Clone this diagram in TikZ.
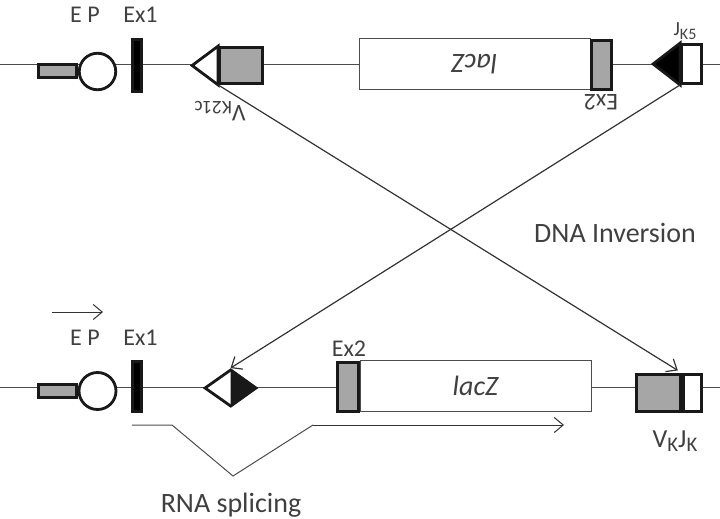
\documentclass[tikz,border=0pt]{standalone}
\usepackage{fontspec}
\setmainfont{Carlito}
\usetikzlibrary{arrows.meta,shapes.geometric}

\newcommand{\genesub}[1]{\raisebox{-0.35ex}{\scalebox{0.8}{#1}}}

\tikzset{
    seg/.style={draw=black!90, line width=2.8pt, inner sep=0pt},
    exon/.style={seg, rectangle, fill=gray!70},
    gene/.style={draw=black!70, line width=1pt, fill=white, inner sep=0pt,
                 minimum width=231pt, minimum height=51pt,
                 font=\fontsize{28}{32}\selectfont\itshape, text=black!75},
    dna/.style={draw=black!70, line width=1pt},
    lbl/.style={inner sep=0pt, text=black!75, font=\fontsize{24}{28}\selectfont},
    biglbl/.style={lbl, font=\fontsize{28}{32}\selectfont},
    move/.style={draw=black!80, line width=1.2pt,
                 -{Straight Barb[length=9pt,width=15pt]}}
}

\begin{document}
\begin{tikzpicture}[x=1pt, y=-1pt]
    \useasboundingbox (0,0) rectangle (720,519);

    % DNA strands
    \coordinate (tl) at (0,65);
    \coordinate (tr) at (720,65);
    \coordinate (bl) at (0,387);
    \coordinate (br) at (720,387);
    \draw[dna] (tl) -- (tr);
    \draw[dna] (bl) -- (br);

    % Upper allele: promoter and exon 1
    \node[exon, minimum width=38pt, minimum height=13pt] (ep1) at (57.5,71) {};
    \node[seg, circle, fill=white, minimum size=36.5pt] (pr1) at (97.5,71.5) {};
    \node[seg, fill=black, minimum width=9.5pt, minimum height=52.5pt] (ex11) at (137,65.5) {};

    % Upper allele: V segment (inverted)
    \node[exon, minimum width=43pt, minimum height=36pt] (vk21) at (241,65.5) {};
    \filldraw[seg, fill=white] (vk21.north west) -- (vk21.south west)
        -- ([xshift=-26pt]vk21.west) -- cycle;

    % Upper allele: lacZ and exon 2 (inverted)
    \node[gene, rotate=180] (lacz1) at (474.5,64) {lacZ};
    \node[exon, minimum width=20pt, minimum height=49pt] (ex21) at (601.5,65) {};

    % Upper allele: J segment
    \node[seg, fill=white, minimum width=20pt, minimum height=39pt] (jk5) at (691.5,64) {};
    \filldraw[seg, fill=black] (jk5.north west) -- (jk5.south west)
        -- ([xshift=-27pt]jk5.west) -- cycle;

    % Lower allele: promoter and exon 1
    \node[exon, minimum width=38pt, minimum height=13pt] (ep2) at (57.5,391) {};
    \node[seg, circle, fill=white, minimum size=37pt] (pr2) at (97.5,391) {};
    \node[seg, fill=black, minimum width=9.5pt, minimum height=50.5pt] (ex12) at (137,386.5) {};

    % Lower allele: recombined site
    \node[seg, diamond, fill=white, minimum width=52pt, minimum height=37pt] (site) at (230.5,388) {};
    \fill[black!90] (site.north) -- (site.east) -- (site.south) -- cycle;

    % Lower allele: lacZ and exon 2
    \node[gene] (lacz2) at (475.5,386) {lacZ};
    \node[exon, minimum width=21pt, minimum height=49pt] (ex22) at (348,387) {};

    % Lower allele: VJ joint
    \node[exon, minimum width=44pt, minimum height=37pt] (vk) at (658.5,393) {};
    \node[seg, fill=white, minimum width=18pt, minimum height=37pt] (jk) at (692.5,393) {};

    % Inversion
    \draw[move, shorten >=5pt] (vk21.south west) -- (jk.north west);
    \draw[move] (jk5.south west) -- (site.north);

    % Transcription start
    \coordinate (ts0) at (52,312);
    \coordinate (ts1) at (103,312);
    \draw[move, line width=1pt] (ts0) -- (ts1);

    % Splicing
    \coordinate (sp0) at (132,425);
    \coordinate (sp1) at (172,425);
    \coordinate (sp2) at (233,476);
    \coordinate (sp3) at (313,425);
    \coordinate (sp4) at (564,425);
    \draw[dna] (sp0) -- (sp1) -- (sp2) -- (sp3);
    \draw[move, line width=1pt] (sp3) -- (sp4);

    % Annotations
    \node[lbl, anchor=base] (lep1) at (85,23) {E P};
    \node[lbl, anchor=base] (lex11) at (140.5,23) {Ex1};
    \node[lbl, anchor=base] (lep2) at (85,345) {E P};
    \node[lbl, anchor=base] (lex12) at (140.5,345) {Ex1};
    \node[lbl, anchor=base] (lex22) at (349,356) {Ex2};
    \node[lbl, rotate=180] (lex21) at (601,102.5) {Ex2};
    \node[lbl, rotate=180] (lvk21) at (220,111) {V\genesub{K21c}};
    \node[lbl, font=\fontsize{20}{24}\selectfont] (ljk5) at (685,31) {J\genesub{K5}};
    \node[lbl, font=\fontsize{26}{30}\selectfont] (lvkjk) at (675,441) {V\genesub{K}J\genesub{K}};
    \node[biglbl, anchor=base] (linv) at (615,242) {DNA Inversion};
    \node[biglbl, anchor=base] (lspl) at (231,512) {RNA splicing};
\end{tikzpicture}
\end{document}
